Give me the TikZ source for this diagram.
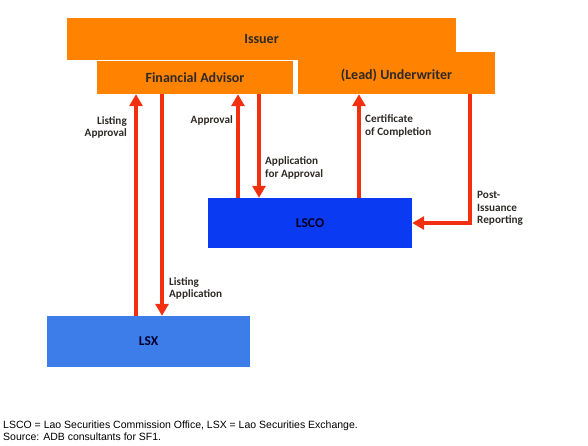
\documentclass[tikz,border=0pt]{standalone}
\usepackage{fontspec}
\setmainfont{Carlito}
\newfontfamily\capfont{Liberation Sans}
\usetikzlibrary{arrows.meta}
\definecolor{orng}{HTML}{FF8200}
\definecolor{redarr}{HTML}{F2300F}
\definecolor{lscoblue}{HTML}{0A3AF2}
\definecolor{lsxblue}{HTML}{3C7DEA}
\definecolor{txt}{HTML}{2E2A26}
\begin{document}
\begin{tikzpicture}[x=1pt,y=-1pt,
  obox/.style={rectangle,fill=orng,draw=none,inner sep=0pt,text=txt,font=\bfseries\fontsize{14}{16}\selectfont},
  bbox/.style={rectangle,draw=none,inner sep=0pt,font=\bfseries\fontsize{13.5}{15}\selectfont},
  arr/.style={draw=redarr,line width=4.5pt,-{Triangle[width=13pt,length=12pt]}},
  lbl/.style={font=\bfseries\fontsize{11.2}{12.7}\selectfont,text=txt,inner sep=0pt,align=left},
  lblr/.style={lbl,align=right}]
\useasboundingbox (0,0) rectangle (588,445);
% orange boxes
\node[obox,minimum width=197pt,minimum height=42pt] (uw) at (396.5,73) {};
\node[obox,minimum width=389pt,minimum height=42pt] (issuer) at (261.5,39) {Issuer};
\node[obox,minimum width=196pt,minimum height=33pt] (fa) at (195,77.5) {Financial Advisor};
\node[obox] (uwtext) at (396.5,75) {(Lead) Underwriter};
% blue boxes
\node[bbox,fill=lscoblue,minimum width=204pt,minimum height=50pt,text=black!70!blue!40!black] (lsco) at (310,223) {LSCO};
\node[bbox,fill=lsxblue,minimum width=203pt,minimum height=51pt,text=black!60!blue!40!black] (lsx) at (148.5,341.5) {LSX};
% arrows
\draw[arr] (lsx.north -| 136,0) -- (fa.south -| 136,0);
\draw[arr] (fa.south -| 162,0) -- (lsx.north -| 162,0);
\draw[arr] (lsco.north -| 238,0) -- (fa.south -| 238,0);
\draw[arr] (fa.south -| 259,0) -- (lsco.north -| 259,0);
\draw[arr] (lsco.north -| 359,0) -- (uw.south -| 359,0);
\draw[arr] (uw.south -| 470,0) |- (lsco.east);
% labels
\node[lblr,anchor=east] (l1) at (127,127.5) {Listing\\Approval};
\node[lblr,anchor=east] (l2) at (233,120.5) {Approval};
\node[lbl,anchor=west] (l3) at (265,168) {Application\\for Approval};
\node[lbl,anchor=west] (l4) at (365,126) {Certificate\\of Completion};
\node[lbl,anchor=west] (l5) at (477,208.5) {Post-\\Issuance\\Reporting};
\node[lbl,anchor=west] (l6) at (169,288.5) {Listing\\Application};
% caption
\node[anchor=north west,inner sep=0pt,align=left,font=\capfont\fontsize{10.5}{12}\selectfont] (cap) at (3,421) {LSCO = Lao Securities Commission Office, LSX = Lao Securities Exchange.\\Source: ADB consultants for SF1.};
\end{tikzpicture}
\end{document}
